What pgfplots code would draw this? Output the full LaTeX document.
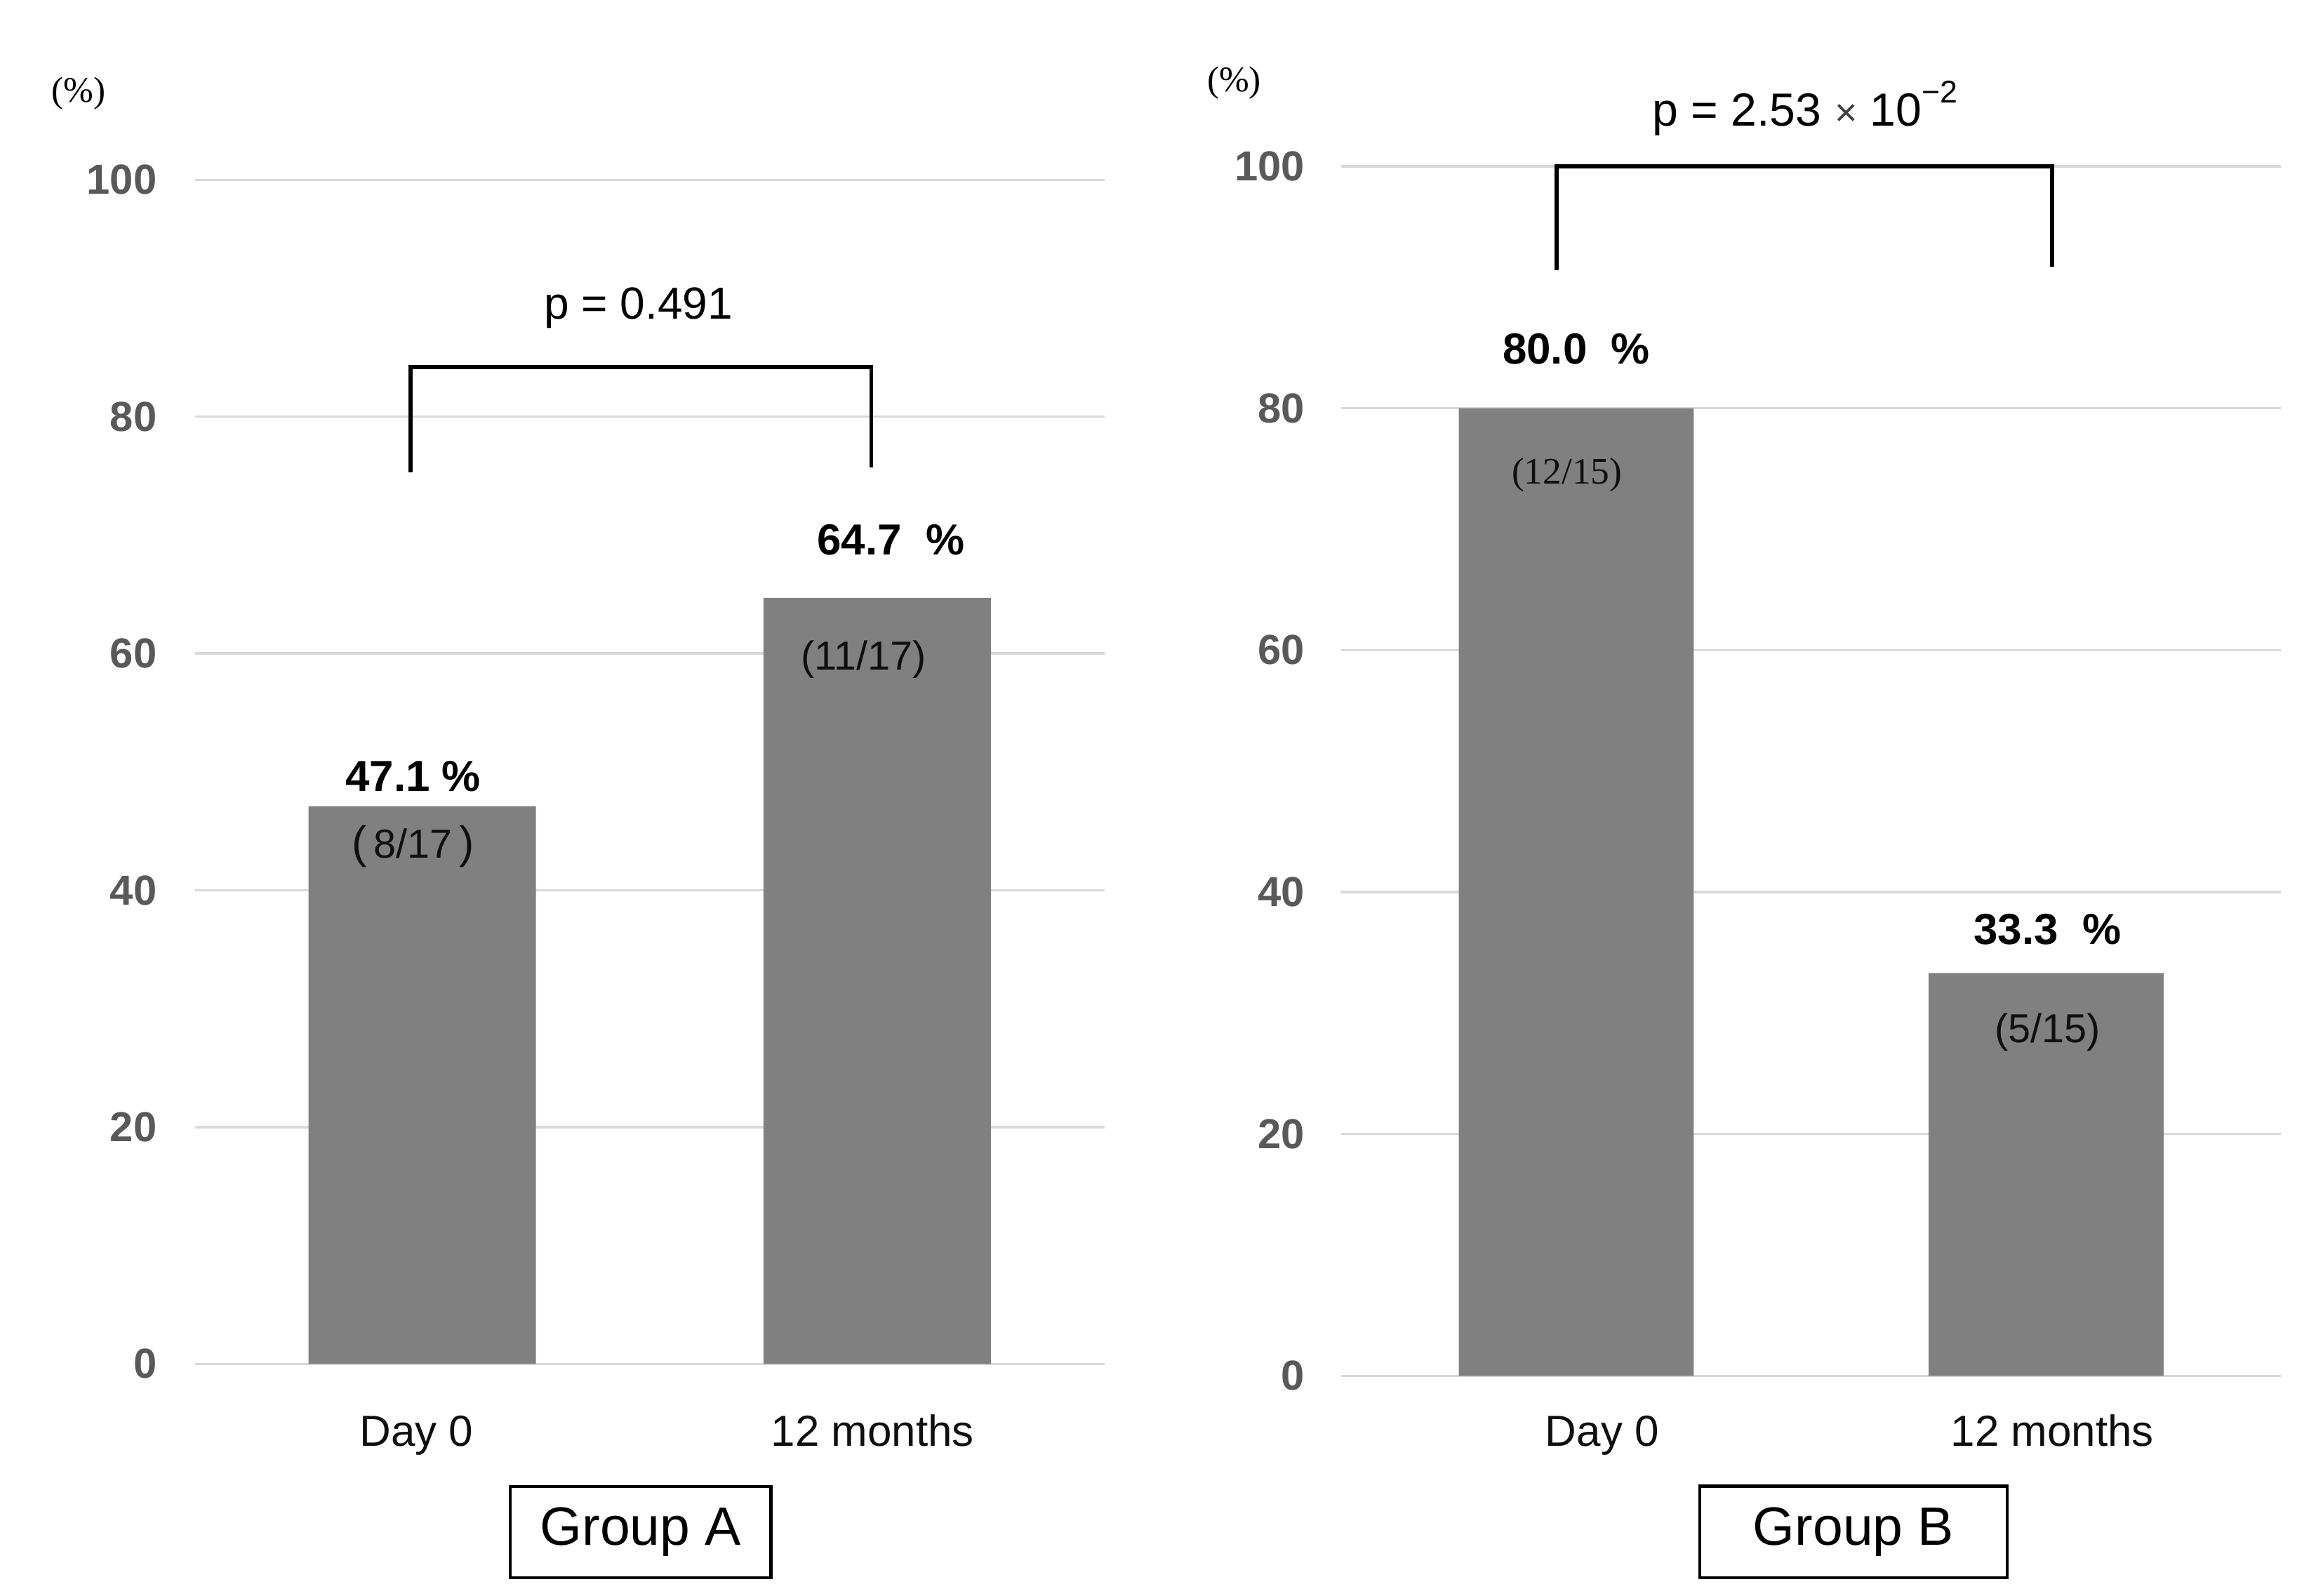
\documentclass[border=0pt]{standalone}
\usepackage{fontspec}
\setmainfont{Liberation Sans}
\newfontfamily\seriffont{Liberation Serif}
\usepackage{pgfplots}
\pgfplotsset{compat=1.18}
\definecolor{bargray}{RGB}{128,128,128}
\definecolor{gridgray}{RGB}{217,217,217}
\definecolor{tickgray}{RGB}{89,89,89}
\definecolor{txt}{RGB}{15,15,15}
\pgfplotsset{
  panel/.style={
    scale only axis, anchor=south west, clip=false,
    ymin=0, ymax=100, xmin=-0.5, xmax=1.5,
    ytick={0,20,40,60,80,100},
    ymajorgrids, grid style={gridgray, line width=0.8pt},
    axis line style={draw=none}, major tick length=0pt,
    /pgf/number format/assume math mode=true,
    yticklabel style={font=\fontsize{14}{16}\selectfont\bfseries, text=tickgray, inner sep=0pt, anchor=east},
    xticklabel style={font=\fontsize{14.5}{16}\selectfont, text=txt, inner sep=0pt, anchor=base},
    ybar, bar width=0.5,
  }
}
\tikzset{
  val/.style={font=\fontsize{14.5}{16}\selectfont\bfseries, text=black, inner sep=0pt},
  frac/.style={font=\fontsize{13.5}{16}\selectfont, text=txt, inner sep=0pt},
  brk/.style={draw=black, line width=1.3pt},
  grp/.style={draw=black, line width=1pt, font=\fontsize{18}{20}\selectfont, inner sep=0pt, minimum height=30.5pt},
}
\begin{document}
\begin{tikzpicture}
\path[use as bounding box] (0,0) rectangle (775pt,532.2pt);
% ---------- Group A ----------
\begin{axis}[panel, at={(65pt,77.2pt)}, width=303.5pt, height=395pt,
  yticklabel style={xshift=-12.5pt}, xticklabel style={yshift=-27.5pt},
  xtick={-0.013,0.99}, xticklabels={Day 0, 12 months}]
\addplot[fill=bargray, draw=none] coordinates {(0,47.1) (1,64.7)};
\node[font=\seriffont\fontsize{12}{14}\selectfont, inner sep=0pt] at (axis cs:-0.756,107.3) {(\%)};
\node[font=\fontsize{15}{17}\selectfont, inner sep=0pt] at (axis cs:0.475,89.2) {p = 0.491};
\draw[brk] (axis cs:-0.026,75.3) -- (axis cs:-0.026,84.2) -- (axis cs:0.987,84.2) -- (axis cs:0.987,75.7);
\node[val] at (axis cs:-0.02,49.6) {47.1 \%};
\node[frac] at (axis cs:-0.02,43.7) {{\fontsize{15}{16}\selectfont(}\,8/17\,{\fontsize{15}{16}\selectfont)}};
\node[val] at (axis cs:1.03,69.6) {64.7 \ \%};
\node[frac] at (axis cs:0.97,59.5) {(11/17)};
\node[grp, minimum width=87pt] at (axis cs:0.48,-14.2) {Group A};
\end{axis}
% ---------- Group B ----------
\begin{axis}[panel, at={(447.5pt,73.2pt)}, width=313.5pt, height=403.5pt,
  yticklabel style={xshift=-12pt}, xticklabel style={yshift=-23.5pt},
  xtick={0.055,1.013}, xticklabels={Day 0, 12 months}]
\addplot[fill=bargray, draw=none] coordinates {(0,80.0) (1,33.3)};
\node[font=\seriffont\fontsize{12}{14}\selectfont, inner sep=0pt] at (axis cs:-0.728,106.9) {(\%)};
\node[font=\fontsize{15.5}{17}\selectfont, inner sep=0pt] at (axis cs:0.487,104.8) {p = 2.53 {\color{darkgray}\fontsize{13}{14}\selectfont ×} 10\raisebox{0.5em}{\fontsize{10.5}{10}\selectfont −2}};
\draw[brk] (axis cs:-0.042,91.4) -- (axis cs:-0.042,100) -- (axis cs:1.013,100) -- (axis cs:1.013,91.7);
\node[val] at (axis cs:0,84.9) {80.0 \ \%};
\node[frac, font=\seriffont\fontsize{12.5}{14}\selectfont] at (axis cs:-0.02,74.5) {(12/15)};
\node[val] at (axis cs:1.003,36.9) {33.3 \ \%};
\node[frac] at (axis cs:1.003,28.4) {(5/15)};
\node[grp, minimum width=102.5pt] at (axis cs:0.59,-12.9) {Group B};
\end{axis}
\end{tikzpicture}
\end{document}
